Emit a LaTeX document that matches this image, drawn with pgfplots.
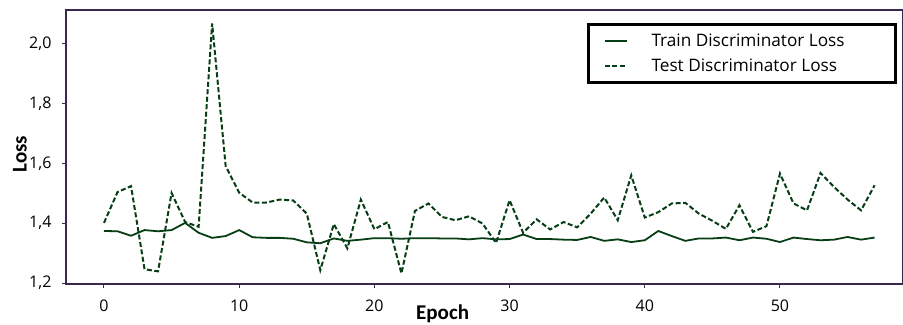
\documentclass[border=0pt]{standalone}
\usepackage{pgfplots}
\pgfplotsset{compat=1.18}
\usepackage{fontspec}
\setmainfont{Open Sans}
\newfontfamily\labfont{Carlito}
\definecolor{lc}{RGB}{8,62,22}
\definecolor{ax}{RGB}{58,40,78}
\pgfplotstableread{
e train test
0 1.374 1.401
1 1.373 1.504
2 1.358 1.524
3 1.377 1.246
4 1.373 1.239
5 1.377 1.501
6 1.401 1.404
7 1.368 1.388
8 1.351 2.068
9 1.357 1.591
10 1.377 1.502
11 1.353 1.469
12 1.351 1.469
13 1.351 1.479
14 1.348 1.476
15 1.336 1.432
16 1.333 1.243
17 1.349 1.397
18 1.341 1.316
19 1.345 1.479
20 1.350 1.380
21 1.350 1.404
22 1.348 1.232
23 1.350 1.441
24 1.350 1.466
25 1.349 1.421
26 1.349 1.410
27 1.346 1.423
28 1.350 1.399
29 1.346 1.334
30 1.347 1.477
31 1.362 1.368
32 1.347 1.413
33 1.347 1.379
34 1.345 1.404
35 1.344 1.386
36 1.354 1.432
37 1.341 1.486
38 1.346 1.410
39 1.337 1.560
40 1.343 1.419
41 1.374 1.437
42 1.357 1.466
43 1.341 1.468
44 1.349 1.432
45 1.349 1.408
46 1.352 1.381
47 1.343 1.460
48 1.352 1.371
49 1.348 1.390
50 1.337 1.566
51 1.352 1.466
52 1.347 1.443
53 1.343 1.568
54 1.345 1.521
55 1.354 1.479
56 1.345 1.443
57 1.352 1.527
}\datatable
\begin{document}
\begin{tikzpicture}
\begin{axis}[
  scale only axis, width=837pt, height=274pt,
  xmin=-2.81, xmax=59.1, ymin=1.1967, ymax=2.113,
  xtick={0,10,...,50}, ytick={1.2,1.4,1.6,1.8,2.0},
  axis line style={ax, line width=1.2pt},
  tick style={ax, line width=1pt},
  tick align=outside, major tick length=4pt,
  xtick pos=bottom, ytick pos=left,
  /pgf/number format/assume math mode=true,
  tick label style={font=\fontsize{16}{18}\selectfont, text=black},
  yticklabel shift=7pt,
  yticklabel style={/pgf/number format/.cd, fixed, fixed zerofill, precision=1, use comma},
  xticklabel style={yshift=-8pt, /pgf/number format/.cd, fixed, precision=0},
  xlabel={\labfont\bfseries\fontsize{21}{24}\selectfont Epoch},
  xlabel style={at={(axis description cs:0.45,0)}, anchor=base, yshift=-36pt},
  ylabel={\labfont\bfseries\fontsize{21}{24}\selectfont Loss},
  ylabel style={at={(axis description cs:-0.047,0.474)}, anchor=base, rotate=0},
  legend style={at={(rel axis cs:0.993,0.953)}, anchor=north east, draw=black, line width=3pt,
    font=\fontsize{17.2}{20}\selectfont, row sep=6pt, inner ysep=8pt, inner xsep=15pt},
  legend cell align=left,
  legend image code/.code={\draw[#1, line width=2pt] (0pt,0pt) -- (22pt,0pt);},
]
\addplot[lc, line width=1.8pt] table[x=e, y=train] {\datatable};
\addlegendentry{\hspace*{22pt}Train Discriminator Loss\hspace*{34pt}}
\addplot[lc, line width=2pt, dash pattern=on 5pt off 2.5pt] table[x=e, y=test] {\datatable};
\addlegendentry{\hspace*{22pt}Test Discriminator Loss}
\end{axis}
\pgfresetboundingbox
\useasboundingbox ([shift={(-66pt,-41pt)}]current axis.south west) rectangle ([shift={(0pt,10pt)}]current axis.north east);
\end{tikzpicture}
\end{document}
